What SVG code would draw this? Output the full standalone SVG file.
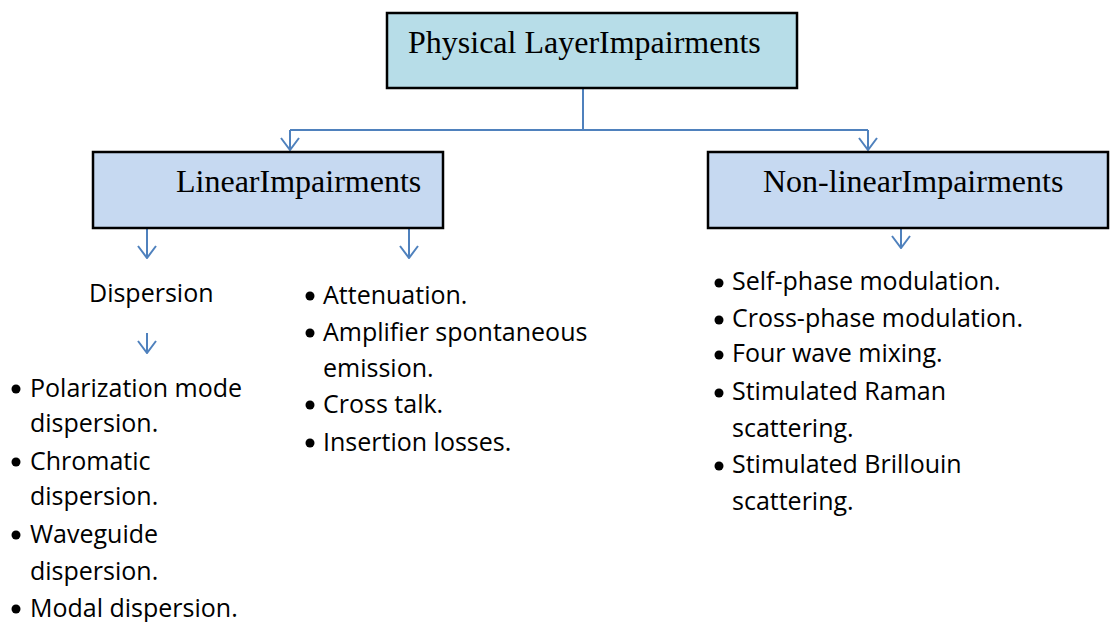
<svg xmlns="http://www.w3.org/2000/svg" width="1110" height="622" viewBox="0 0 1110 622">
<style>
.box{stroke:#000;stroke-width:2.5}
.hd{font-family:"Liberation Serif","Times New Roman",serif;font-size:32px;fill:#000}
.tx{font-family:"Open Sans","Liberation Sans",sans-serif;font-size:25px;fill:#000}
.ln{stroke:#4f81bd;stroke-width:2;fill:none}
.bl{fill:#000}
</style>
<defs>
<marker id="ah" viewBox="0 0 14 20" refX="13" refY="10" markerWidth="14" markerHeight="20" markerUnits="userSpaceOnUse" orient="auto">
<path d="M1,1 L13,10 L1,19" fill="none" stroke="#4f81bd" stroke-width="2"/>
</marker>
</defs>
<g id="connectors">
<path class="ln" d="M583,88 V130"/>
<path class="ln" d="M290,130 H868"/>
<path class="ln" d="M290,130 V150" marker-end="url(#ah)"/>
<path class="ln" d="M868,130 V150" marker-end="url(#ah)"/>
<path class="ln" d="M147,228 V258" marker-end="url(#ah)"/>
<path class="ln" d="M409,228 V258" marker-end="url(#ah)"/>
<path class="ln" d="M901,228 V248" marker-end="url(#ah)"/>
<path class="ln" d="M147,333 V353" marker-end="url(#ah)"/>
</g>
<g id="root">
<rect class="box" x="387" y="13" width="410" height="75" fill="#b7dde8"/>
<text class="hd" x="408" y="53">Physical LayerImpairments</text>
</g>
<g id="linear">
<rect class="box" x="93" y="152" width="350" height="76" fill="#c6d9f1"/>
<text class="hd" x="176" y="192">LinearImpairments</text>
</g>
<g id="nonlinear">
<rect class="box" x="708" y="152" width="400" height="76" fill="#c6d9f1"/>
<text class="hd" x="763" y="192">Non-linearImpairments</text>
</g>
<g id="dispersion">
<text class="tx" x="89" y="302">Dispersion</text>
</g>
<g id="dispersion-list">
<circle class="bl" cx="16" cy="389" r="4.5"/>
<circle class="bl" cx="16" cy="462" r="4.5"/>
<circle class="bl" cx="16" cy="535" r="4.5"/>
<circle class="bl" cx="16" cy="609" r="4.5"/>
<text class="tx" x="30" y="397">Polarization mode</text>
<text class="tx" x="30" y="432">dispersion.</text>
<text class="tx" x="30" y="470">Chromatic</text>
<text class="tx" x="30" y="505">dispersion.</text>
<text class="tx" x="30" y="543">Waveguide</text>
<text class="tx" x="30" y="580">dispersion.</text>
<text class="tx" x="30" y="617">Modal dispersion.</text>
</g>
<g id="linear-list">
<circle class="bl" cx="310" cy="296" r="4.5"/>
<circle class="bl" cx="310" cy="333" r="4.5"/>
<circle class="bl" cx="310" cy="405" r="4.5"/>
<circle class="bl" cx="310" cy="443" r="4.5"/>
<text class="tx" x="323" y="304">Attenuation.</text>
<text class="tx" x="323" y="341">Amplifier spontaneous</text>
<text class="tx" x="323" y="377">emission.</text>
<text class="tx" x="323" y="413">Cross talk.</text>
<text class="tx" x="323" y="451">Insertion losses.</text>
</g>
<g id="nonlinear-list">
<circle class="bl" cx="719" cy="283" r="4.5"/>
<circle class="bl" cx="719" cy="320" r="4.5"/>
<circle class="bl" cx="719" cy="355" r="4.5"/>
<circle class="bl" cx="719" cy="393" r="4.5"/>
<circle class="bl" cx="719" cy="466" r="4.5"/>
<text class="tx" x="732" y="290">Self-phase modulation.</text>
<text class="tx" x="732" y="327">Cross-phase modulation.</text>
<text class="tx" x="732" y="362">Four wave mixing.</text>
<text class="tx" x="732" y="400">Stimulated Raman</text>
<text class="tx" x="732" y="437">scattering.</text>
<text class="tx" x="732" y="473">Stimulated Brillouin</text>
<text class="tx" x="732" y="510">scattering.</text>
</g>
</svg>
